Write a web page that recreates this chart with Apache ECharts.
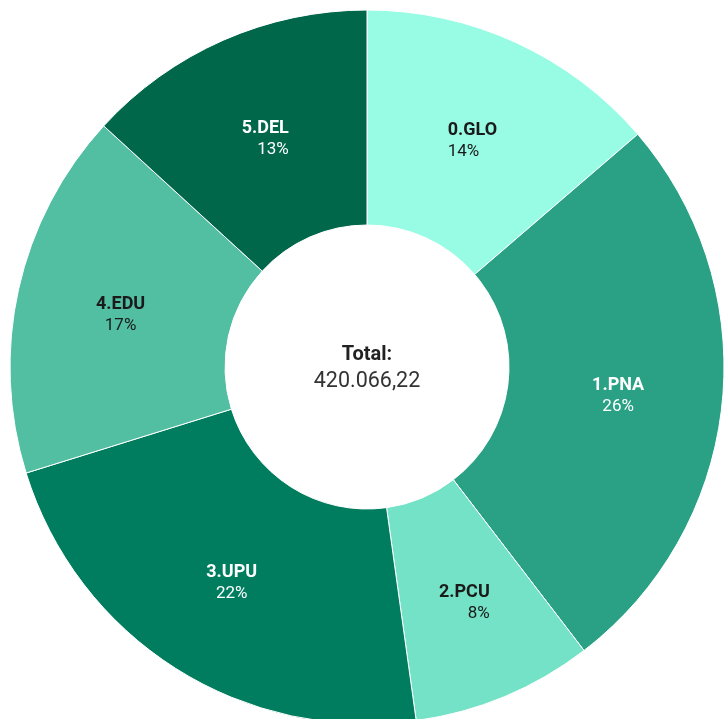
<!DOCTYPE html>
<html><head><meta charset="utf-8">
<script src="https://cdn.jsdelivr.net/npm/echarts@6/dist/echarts.min.js"></script>
<style>html,body{margin:0;padding:0;background:#fff}#c{width:725px;height:719px}</style>
</head><body><div id="c"></div>
<script>
const categories = ['0.GLO','1.PNA','2.PCU','3.UPU','4.EDU','5.DEL'];
const values = [57549, 108797, 34445, 94095, 69731, 55449.22];
const totalLabel = 'Total:';

// styles
const colors = ['#97fce3','#2aa084','#74e2c6','#007d5f','#52bea2','#00674b'];
const labelColors = ['#1a1a1a','#ffffff','#1a1a1a','#ffffff','#1a1a1a','#ffffff'];
const labelAlign = ['left','center','right','center','center','right'];

const total = values.reduce((a,b)=>a+b,0);
function fmt(n){
  const parts = n.toFixed(2).split('.');
  return parts[0].replace(/\B(?=(\d{3})+(?!\d))/g,'.') + ',' + parts[1];
}
const rich = {};
labelColors.forEach((col,i)=>{
  rich['n'+i] = {fontFamily:'Roboto',fontWeight:'bold',fontSize:18,color:col,lineHeight:22,align:labelAlign[i]};
  rich['p'+i] = {fontFamily:'Roboto',fontSize:17,color:col,lineHeight:21,align:labelAlign[i]};
});
const chart = echarts.init(document.getElementById('c'));
chart.setOption({
  animation:false,
  graphic:[{type:'text',x:367,y:341,style:{
    text:'{a|'+totalLabel+'}\n{b|'+fmt(total)+'}',
    rich:{a:{fontFamily:'Roboto',fontWeight:'bold',fontSize:20,fill:'#222',lineHeight:27,align:'center'},
          b:{fontFamily:'Roboto',fontSize:21.5,fill:'#333',lineHeight:27,align:'center'}},
    textAlign:'center'}}],
  series:[{
    type:'pie',
    center:[367,367],
    radius:[142,357],
    startAngle:90,
    clockwise:true,
    itemStyle:{borderColor:'#fff',borderWidth:1},
    label:{position:'inside',fontFamily:'Roboto',rich:rich,padding:[6,0,0,0],
      formatter: p => '{n'+p.dataIndex+'|'+p.name+'}\n{p'+p.dataIndex+'|'+Math.round(p.percent)+'%}'},
    labelLine:{show:false},
    emphasis:{disabled:true},
    data: categories.map((c,i)=>({name:c,value:values[i],itemStyle:{color:colors[i]}}))
  }]
});
</script></body></html>
